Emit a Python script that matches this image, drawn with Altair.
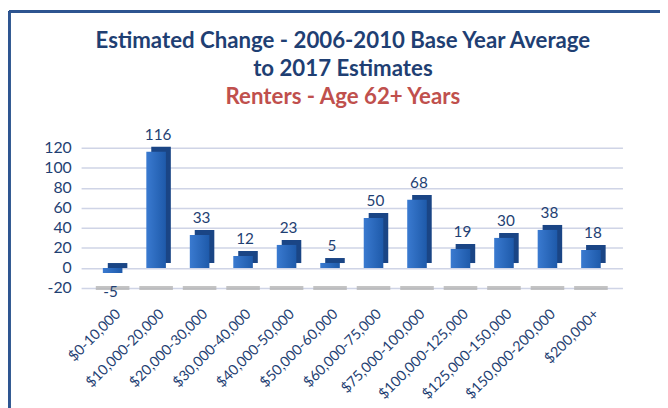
import altair as alt
import pandas as pd

categories = ["$0-10,000", "$10,000-20,000", "$20,000-30,000", "$30,000-40,000",
              "$40,000-50,000", "$50,000-60,000", "$60,000-75,000", "$75,000-100,000",
              "$100,000-125,000", "$125,000-150,000", "$150,000-200,000", "$200,000+"]
values = [-5, 116, 33, 12, 23, 5, 50, 68, 19, 30, 38, 18]
y_ticks = [-20, 0, 20, 40, 60, 80, 100, 120]
floor_value = -20

df = pd.DataFrame({"cat": categories, "val": values})

FONT = "Lato"
BLUE_TXT = "#1f3f73"

xenc = alt.X("cat:N", sort=categories,
             scale=alt.Scale(paddingInner=0.55, paddingOuter=0.5),
             axis=alt.Axis(title=None, labelAngle=-45, domain=False, ticks=False,
                           labelFontSize=14.5, labelColor=BLUE_TXT, labelFont=FONT,
                           labelPadding=19, labelOffset=1, labelOverlap=False))


def yenc(field):
    return alt.Y(field, scale=alt.Scale(domain=[-20, 120], nice=False),
                 axis=alt.Axis(title=None, values=y_ticks, domain=False, ticks=False,
                               labelFontSize=16, labelColor=BLUE_TXT, labelFont=FONT,
                               labelPadding=10, labelOverlap=False,
                               labelExpr="replace(datum.label, '\u2212', '-')",
                               gridColor="#cfd4e6", gridWidth=1.5))


base = alt.Chart(df).transform_calculate(floor=str(floor_value))

shadow = base.mark_tick(color="#b5b5b5", size=34, thickness=4, opacity=0.8).encode(
    x=xenc, y=yenc("floor:Q"))

depth = base.mark_bar(color="#1a4585", xOffset=5, yOffset=-5).encode(x=xenc, y=yenc("val:Q"))

face = base.mark_bar(color=alt.Gradient(
    gradient="linear",
    stops=[alt.GradientStop(color="#3a7ad0", offset=0),
           alt.GradientStop(color="#1e5aaa", offset=1)],
    x1=0, x2=1, y1=0, y2=0)).encode(x=xenc, y=yenc("val:Q"))

pos_lbl = base.transform_filter("datum.val >= 0").mark_text(
    baseline="bottom", dy=-9, dx=2, fontSize=15.5, font=FONT, color=BLUE_TXT).encode(
    x=xenc, y=yenc("val:Q"), text="val:Q")
neg_lbl = base.transform_filter("datum.val < 0").transform_calculate(
    lbl2="'-' + format(abs(datum.val), 'd')").mark_text(
    baseline="top", dy=12, dx=-2, fontSize=15.5, font=FONT, color=BLUE_TXT).encode(
    x=xenc, y=yenc("val:Q"), text="lbl2:N")

frame_left = alt.Chart(df).mark_rule(color="#2e5591", strokeWidth=2.5).encode(
    x=alt.value(-73), y=alt.value(-138), y2=alt.value(300))
frame_top = alt.Chart(df).mark_rule(color="#2e5591", strokeWidth=2.5).encode(
    x=alt.value(-73), x2=alt.value(640), y=alt.value(-138))

chart = alt.layer(shadow, depth, face, pos_lbl, neg_lbl, frame_left, frame_top).properties(
    width=548, height=142,
    padding={"left": 74, "top": 139, "right": 38, "bottom": 119},
    autosize=alt.AutoSizeParams(type="none"),
    title=alt.TitleParams(
        text=["Estimated Change - 2006-2010 Base Year Average", "to 2017 Estimates"],
        subtitle="Renters - Age 62+ Years",
        color=BLUE_TXT, subtitleColor="#c0504d",
        font=FONT, subtitleFont=FONT,
        fontSize=22.5, subtitleFontSize=22.5,
        fontWeight="bold", subtitleFontWeight="bold",
        lineHeight=29, subtitleLineHeight=29, subtitlePadding=5,
        anchor="middle", dx=-9, offset=-99)
).configure_view(stroke=None).configure_axisY(labelOverlap=False)

chart.save("out.html", embed_options={"renderer": "svg", "actions": False})
